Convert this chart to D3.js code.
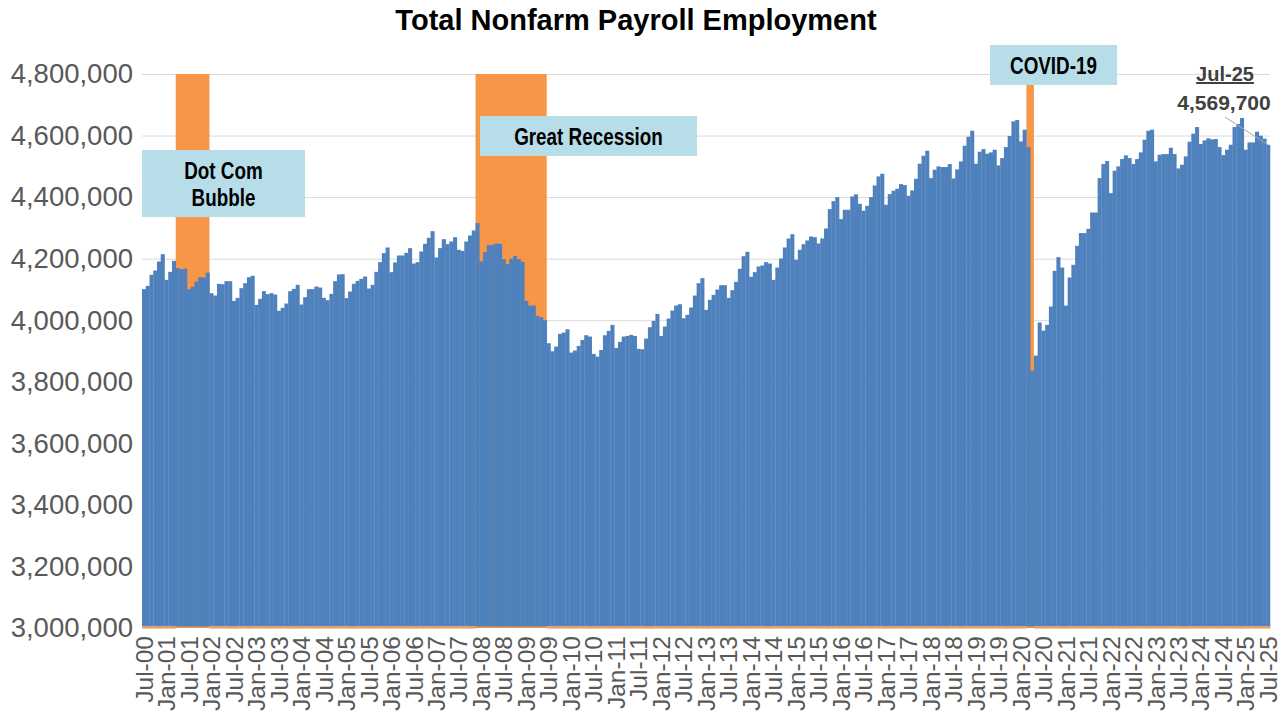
<!DOCTYPE html>
<html>
<head>
<meta charset="utf-8">
<script src="https://cdn.jsdelivr.net/npm/d3@7"></script>
<style>
  body { margin: 0; background: #fff; }
  svg { display: block; }
</style>
</head>
<body>
<div id="chart"></div>
<script>
// monthly total nonfarm payroll, Jul-00 .. Jul-25 (not seasonally adjusted)
var payroll = [
  4100800, 4111600, 4147400, 4161500, 4190800, 4214600,                     // Jul-00..Dec-00
  4131200, 4157200, 4193000, 4169100, 4165900, 4168000, 4100800, 4108400, 4125700, 4139800, 4138800, 4155000, // 2001
  4087800, 4080200, 4118100, 4117000, 4126800, 4126800, 4062900, 4072600, 4104100, 4120300, 4139800, 4144200, // 2002
  4049900, 4069400, 4094300, 4084600, 4087800, 4083500, 4030400, 4040100, 4054300, 4094300, 4101900, 4114900, // 2003
  4051000, 4074800, 4100800, 4100800, 4109500, 4106200, 4072600, 4065000, 4085600, 4126800, 4148500, 4149600, // 2004
  4071600, 4093200, 4118100, 4127900, 4134400, 4142000, 4103000, 4114900, 4157200, 4188600, 4217900, 4236300, // 2005
  4156100, 4187600, 4210300, 4210300, 4219000, 4234200, 4184300, 4188600, 4223300, 4248300, 4267800, 4289400, // 2006
  4203800, 4234200, 4263400, 4247200, 4255800, 4269900, 4228700, 4225500, 4255800, 4275300, 4291600, 4315500, // 2007
  4190800, 4221100, 4243900, 4245000, 4249300, 4248300, 4198400, 4182100, 4199500, 4208100, 4198400, 4189700, // 2008
  4062900, 4047700, 4047700, 4014100, 4009800, 4000000, 3925200, 3899200, 3914400, 3955600, 3959900, 3970700, // 2009
  3894900, 3901400, 3916500, 3936000, 3951200, 3946900, 3890500, 3881800, 3903500, 3951200, 3965300, 3984800, // 2010
  3910000, 3929500, 3946900, 3949000, 3952300, 3949000, 3906800, 3905700, 3940400, 3977300, 3997800, 4020600, // 2011
  3949000, 3979400, 4005400, 4031400, 4047700, 4052000, 4006500, 4017400, 4041200, 4080200, 4120300, 4136600, // 2012
  4033600, 4066100, 4082400, 4099700, 4113800, 4113800, 4072600, 4097600, 4124600, 4166900, 4208100, 4222200, // 2013
  4140900, 4156100, 4174600, 4177800, 4188600, 4184300, 4131200, 4171200, 4200500, 4236300, 4265600, 4279300, // 2014
  4196200, 4228700, 4247200, 4259100, 4272100, 4269900, 4249300, 4265600, 4298100, 4361000, 4387000, 4400000, // 2015
  4328500, 4358800, 4358800, 4402200, 4408700, 4378300, 4355600, 4371800, 4400000, 4437900, 4467200, 4475900, // 2016
  4375100, 4409800, 4420600, 4427100, 4442300, 4439000, 4404300, 4421700, 4459600, 4508400, 4534400, 4550700, // 2017
  4461800, 4488900, 4499700, 4497600, 4497600, 4507300, 4460700, 4490000, 4516000, 4566900, 4596200, 4615700, // 2018
  4508400, 4547400, 4556100, 4541000, 4545300, 4553900, 4503000, 4526800, 4562600, 4598400, 4646100, 4650400, // 2019
  4581000, 4619000, 4562600, 3836300, 3885100, 3992400, 3966400, 3984800, 4044500, 4160400, 4204900, 4171200, // 2020
  4047700, 4138800, 4180000, 4241700, 4283000, 4283000, 4297000, 4350100, 4350100, 4461800, 4507300, 4517100, // 2021
  4413000, 4485700, 4499700, 4523600, 4535500, 4526800, 4507300, 4523600, 4545300, 4586500, 4615700, 4619000, // 2022
  4516000, 4537700, 4539800, 4539800, 4560400, 4539800, 4493200, 4505200, 4532300, 4580000, 4606000, 4627600, // 2023
  4572400, 4584300, 4590800, 4587500, 4588600, 4562600, 4536600, 4553900, 4570200, 4627600, 4637400, 4656900, // 2024
  4553900, 4577800, 4577800, 4612500, 4599500, 4590000, 4569700             // Jan-25..Jul-25
];

var firstMonth = new Date(2000, 6, 1);
var fmt = d3.timeFormat("%b-%y");
var months = d3.timeMonth.range(firstMonth, d3.timeMonth.offset(firstMonth, payroll.length)).map(fmt);

// recession bands (first and last shaded month)
var recessions = [
  { start: "Apr-01", end: "Dec-01" },
  { start: "Dec-07", end: "Jun-09" },
  { start: "Mar-20", end: "Apr-20" }
];

var yTicks = [3000000, 3200000, 3400000, 3600000, 3800000, 4000000, 4200000, 4400000, 4600000, 4800000];

var notes = [
  { lines: ["Dot Com", "Bubble"], box: [142, 150, 163, 67] },
  { lines: ["Great Recession"], box: [480, 116, 217, 40] },
  { lines: ["COVID-19"], box: [990, 45, 127, 40] }
];

var lastLabel = "Jul-25";

var width = 1287, height = 713;
var margin = { left: 142, right: 17, top: 74, bottom: 85 };

var svg = d3.select("#chart").append("svg")
  .attr("width", width)
  .attr("height", height);

var x = d3.scaleBand()
  .domain(months)
  .range([margin.left, width - margin.right])
  .padding(0);

var y = d3.scaleLinear()
  .domain([3000000, 4800000])
  .range([height - margin.bottom, margin.top]);

// title
svg.append("text")
  .attr("x", 636)
  .attr("y", 30)
  .attr("text-anchor", "middle")
  .style("font-family", "Liberation Sans, Arial, sans-serif")
  .style("font-weight", "bold")
  .style("font-size", "29px")
  .text("Total Nonfarm Payroll Employment");

// gridlines
svg.append("g")
  .selectAll("line")
  .data(yTicks.slice(1))
  .enter().append("line")
  .attr("x1", margin.left)
  .attr("x2", width - margin.right)
  .attr("y1", function (d) { return y(d) + 0.5; })
  .attr("y2", function (d) { return y(d) + 0.5; })
  .attr("stroke", "#d9d9d9")
  .attr("stroke-width", 1);

// y axis labels
var yAxis = d3.axisLeft(y).tickValues(yTicks).tickSize(0).tickPadding(9).tickFormat(d3.format(","));
svg.append("g")
  .attr("transform", "translate(" + margin.left + ",0)")
  .call(yAxis)
  .call(function (g) { g.select(".domain").remove(); })
  .selectAll("text")
  .attr("fill", "#595959")
  .style("font-family", "Liberation Sans, Arial, sans-serif")
  .style("font-size", "27.5px");

// recession shading
var recIdx = [];
recessions.forEach(function (r) {
  var a = months.indexOf(r.start), b = months.indexOf(r.end);
  for (var i = a; i <= b; i++) recIdx.push(i);
  svg.append("rect")
    .attr("x", x(r.start))
    .attr("y", y(4800000))
    .attr("width", x(r.end) + x.bandwidth() - x(r.start))
    .attr("height", y(3000000) - y(4800000))
    .attr("fill", "#f79646");
});

// bars
svg.append("g")
  .selectAll("rect")
  .data(payroll)
  .enter().append("rect")
  .attr("x", function (d, i) { return x(months[i]); })
  .attr("y", function (d) { return y(d); })
  .attr("width", x.bandwidth() + 0.3)
  .attr("height", function (d) { return y(3000000) - 1.5 - y(d); })
  .attr("fill", "#4f81bd");

// baseline of the recession series
svg.append("g")
  .selectAll("rect")
  .data(months.filter(function (m, i) { return recIdx.indexOf(i) < 0; }))
  .enter().append("rect")
  .attr("x", function (d) { return x(d); })
  .attr("y", y(3000000) - 1.5)
  .attr("width", x.bandwidth() + 0.3)
  .attr("height", 2)
  .attr("fill", "#f79646");

// x axis labels every 6 months
var xAxis = d3.axisBottom(x)
  .tickValues(months.filter(function (m, i) { return i % 6 === 0; }))
  .tickSize(0);
svg.append("g")
  .attr("transform", "translate(0," + (height - margin.bottom) + ")")
  .call(xAxis)
  .call(function (g) { g.select(".domain").remove(); })
  .selectAll("text")
  .attr("fill", "#595959")
  .attr("text-anchor", "end")
  .attr("transform", "translate(0,8) rotate(-90)")
  .attr("x", 0)
  .attr("y", 0)
  .attr("dy", "0.36em")
  .style("font-family", "Liberation Sans, Arial, sans-serif")
  .style("font-size", "24.5px");

// recession notes (condensed bold text)
notes.forEach(function (n) {
  var b = n.box;
  svg.append("rect")
    .attr("x", b[0]).attr("y", b[1])
    .attr("width", b[2]).attr("height", b[3])
    .attr("fill", "#b7dee8");
  var lh = 27;
  var y0 = b[1] + b[3] / 2 - (n.lines.length - 1) * lh / 2 + 9;
  var t = svg.append("text")
    .attr("transform", "translate(" + (b[0] + b[2] / 2) + ",0) scale(0.82,1)")
    .attr("text-anchor", "middle")
    .style("font-family", "Liberation Sans, Arial, sans-serif")
    .style("font-weight", "bold")
    .style("font-size", "23px");
  n.lines.forEach(function (l, k) {
    t.append("tspan").attr("x", 0).attr("y", y0 + k * lh).text(l);
  });
});

// last value callout
var lastVal = payroll[payroll.length - 1];
svg.append("line")
  .attr("x1", 1225).attr("y1", 117)
  .attr("x2", x(lastLabel) + x.bandwidth() / 2).attr("y2", y(lastVal))
  .attr("stroke", "#a6a6a6")
  .attr("stroke-width", 1);
svg.append("text")
  .attr("x", 1225).attr("y", 81)
  .attr("text-anchor", "middle")
  .attr("fill", "#404040")
  .style("font-family", "Liberation Sans, Arial, sans-serif")
  .style("font-weight", "bold")
  .style("font-size", "20px")
  .style("text-decoration", "underline")
  .text(lastLabel);
svg.append("text")
  .attr("x", 1224).attr("y", 110)
  .attr("text-anchor", "middle")
  .attr("fill", "#404040")
  .style("font-family", "Liberation Sans, Arial, sans-serif")
  .style("font-weight", "bold")
  .style("font-size", "21px")
  .text(d3.format(",")(lastVal));
</script>
</body>
</html>
